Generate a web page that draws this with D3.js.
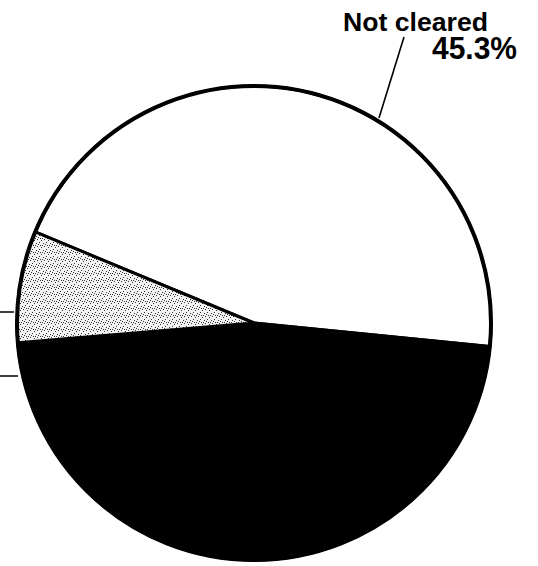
<!DOCTYPE html>
<html>
<head>
<meta charset="utf-8">
<script src="https://cdn.jsdelivr.net/npm/d3@7"></script>
<style>
  html, body { margin: 0; padding: 0; background: #fff; }
  svg { display: block; }
</style>
</head>
<body>
<svg id="chart" width="538" height="566"></svg>
<script>
// ---- data ----
const categories = ["Not cleared", "Other (black slice)", "Other (stippled slice)"];
const values = [45.3, 47.1, 7.6];
const valueLabels = ["45.3%", "", ""];
const fills = ["#ffffff", "#000000", "url(#stipple)"];

// ---- layout ----
const svg = d3.select("#chart");
const cx = 254, cy = 323, r = 237;

// stipple pattern for the light slice
const defs = svg.append("defs");
const pat = defs.append("pattern")
  .attr("id", "stipple").attr("patternUnits", "userSpaceOnUse")
  .attr("width", 7).attr("height", 7);
pat.append("rect").attr("width", 7).attr("height", 7).attr("fill", "#f2f2f2");
[[0,0],[4,1],[2,3],[6,4],[1,5],[5,6],[3,6]].forEach(([x,y]) =>
  pat.append("rect").attr("x", x).attr("y", y).attr("width", 1).attr("height", 1).attr("fill", "#333"));

const startDeg = -67.4;
const pie = d3.pie().sort(null).value(d => d)
  .startAngle(startDeg * Math.PI / 180)
  .endAngle((startDeg + 360) * Math.PI / 180);
const arcs = pie(values);
const arc = d3.arc().innerRadius(0).outerRadius(r);

const g = svg.append("g").attr("transform", `translate(${cx},${cy})`);
g.selectAll("path.slice").data(arcs).enter().append("path")
  .attr("class", "slice")
  .attr("d", arc)
  .attr("fill", (d, i) => fills[i])
  .attr("stroke", "#000").attr("stroke-width", 3).attr("stroke-linejoin", "round");

// outline
g.append("circle").attr("r", r).attr("fill", "none")
  .attr("stroke", "#000").attr("stroke-width", 4);

// leader line for "Not cleared"
svg.append("line").attr("x1", 379).attr("y1", 118).attr("x2", 404).attr("y2", 37)
  .attr("stroke", "#000").attr("stroke-width", 1.6);

// labels
svg.append("text").attr("x", 343).attr("y", 31)
  .attr("font-family", "Liberation Sans, Arial, sans-serif").attr("font-weight", "bold")
  .attr("font-size", 25).attr("textLength", 145).attr("lengthAdjust", "spacingAndGlyphs")
  .attr("fill", "#000").text(categories[0]);
svg.append("text").attr("x", 432).attr("y", 59)
  .attr("font-family", "Liberation Sans, Arial, sans-serif").attr("font-weight", "bold")
  .attr("font-size", 32).attr("textLength", 85).attr("lengthAdjust", "spacingAndGlyphs")
  .attr("fill", "#000").text(valueLabels[0]);

// cut-off leader lines on the left edge (labels lie outside the frame)
svg.append("line").attr("x1", 0).attr("y1", 312).attr("x2", 14).attr("y2", 312)
  .attr("stroke", "#000").attr("stroke-width", 1.5);
svg.append("line").attr("x1", 0).attr("y1", 376).attr("x2", 18).attr("y2", 376)
  .attr("stroke", "#000").attr("stroke-width", 1.5);
</script>
</body>
</html>
